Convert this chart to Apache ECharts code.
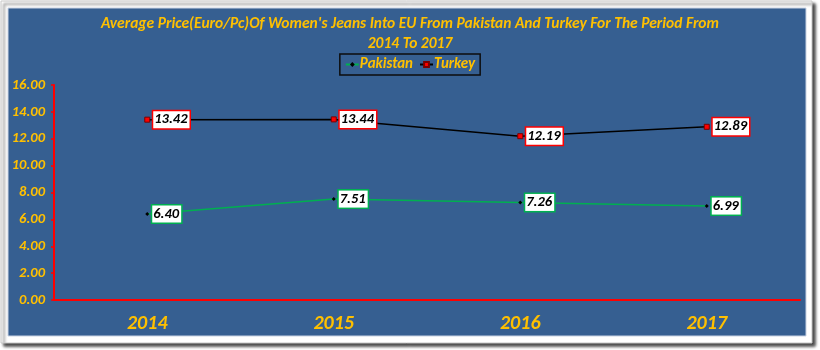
<!DOCTYPE html>
<html>
<head>
<meta charset="utf-8">
<style>
  html, body { margin: 0; padding: 0; background: #ffffff; }
  #chart { width: 820px; height: 350px; }
</style>
<script src="https://cdn.jsdelivr.net/npm/echarts@6/dist/echarts.min.js"></script>
</head>
<body>
<div id="chart"></div>
<script>
// Average import price (Euro per piece) of women's jeans into the EU
const years = ['2014', '2015', '2016', '2017'];
const pakistan = [6.40, 7.51, 7.26, 6.99];
const turkey = [13.42, 13.44, 12.19, 12.89];
const yTicks = { min: 0, max: 16, interval: 2 };

const FONT = "Carlito, 'Liberation Sans Narrow', 'Open Sans', sans-serif";
const GOLD = '#FFC000';

function labelStyle(border) {
  return {
    show: true,
    position: 'right',
    distance: 3,
    formatter: p => p.value.toFixed(2),
    fontFamily: FONT,
    fontStyle: 'italic',
    fontWeight: 'bold',
    fontSize: 14.5,
    lineHeight: 14,
    color: '#000',
    backgroundColor: '#ffffff',
    borderColor: border,
    borderWidth: 1.5,
    padding: [2, 2, 1, 1]
  };
}

const chart = echarts.init(document.getElementById('chart'), null, { renderer: 'canvas' });
chart.setOption({
  animation: false,
  backgroundColor: '#ffffff',
  graphic: [
    { type: 'rect', z: -10, shape: { x: 1, y: 1, width: 811, height: 342 },
      style: { fill: '#ffffff', stroke: '#c8c8c8', lineWidth: 1,
               shadowColor: 'rgba(0,0,0,0.75)', shadowBlur: 3, shadowOffsetX: 3, shadowOffsetY: 3 } },
    { type: 'rect', z: -9, shape: { x: 8, y: 8, width: 798, height: 328 },
      style: { fill: '#365F91', stroke: '#c9d3e3', lineWidth: 1 } }
  ],
  title: {
    text: "Average Price(Euro/Pc)Of Women's Jeans Into EU From Pakistan And Turkey For The Period From\n2014 To 2017",
    left: 'center',
    top: 9,
    textStyle: {
      fontFamily: FONT, fontStyle: 'italic', fontWeight: 'bold',
      fontSize: 15.5, lineHeight: 20, color: GOLD
    }
  },
  legend: {
    top: 54,
    left: 'center',
    data: ['Pakistan', 'Turkey'],
    borderColor: '#0d0d0d',
    borderWidth: 1.5,
    padding: [3, 5, 3, 5],
    itemGap: 6,
    itemWidth: 13,
    itemHeight: 6,
    textStyle: {
      fontFamily: FONT, fontStyle: 'italic', fontWeight: 'bold',
      fontSize: 15, color: GOLD, padding: [0, 0, 0, -4]
    }
  },
  grid: { left: 54, right: 20, top: 85, bottom: 50, containLabel: false },
  xAxis: {
    type: 'category',
    data: years,
    boundaryGap: true,
    axisLine: { lineStyle: { color: '#FF0000', width: 2 } },
    axisTick: { show: false },
    axisLabel: {
      margin: 14,
      fontFamily: FONT, fontStyle: 'italic', fontWeight: 'bold',
      fontSize: 20, color: GOLD
    },
    splitLine: { show: false }
  },
  yAxis: {
    type: 'value',
    min: yTicks.min,
    max: yTicks.max,
    interval: yTicks.interval,
    axisLine: { show: true, lineStyle: { color: '#FF0000', width: 2 } },
    axisTick: { show: true, length: 3, lineStyle: { color: '#FF0000', width: 1.5 } },
    axisLabel: {
      margin: 9,
      formatter: v => v.toFixed(2),
      fontFamily: FONT, fontStyle: 'italic', fontWeight: 'bold',
      fontSize: 14.5, color: GOLD
    },
    splitLine: { show: false }
  },
  series: [
    {
      name: 'Pakistan',
      type: 'line',
      data: pakistan,
      symbol: 'diamond',
      symbolSize: 4,
      itemStyle: { color: '#000000' },
      lineStyle: { color: '#00B050', width: 1.5 },
      label: labelStyle('#00B050')
    },
    {
      name: 'Turkey',
      type: 'line',
      data: turkey,
      symbol: 'rect',
      symbolSize: 5,
      itemStyle: { color: '#FF0000', borderColor: '#7a0000', borderWidth: 1 },
      lineStyle: { color: '#000000', width: 1.5 },
      label: labelStyle('#FF0000')
    }
  ]
});
</script>
</body>
</html>
